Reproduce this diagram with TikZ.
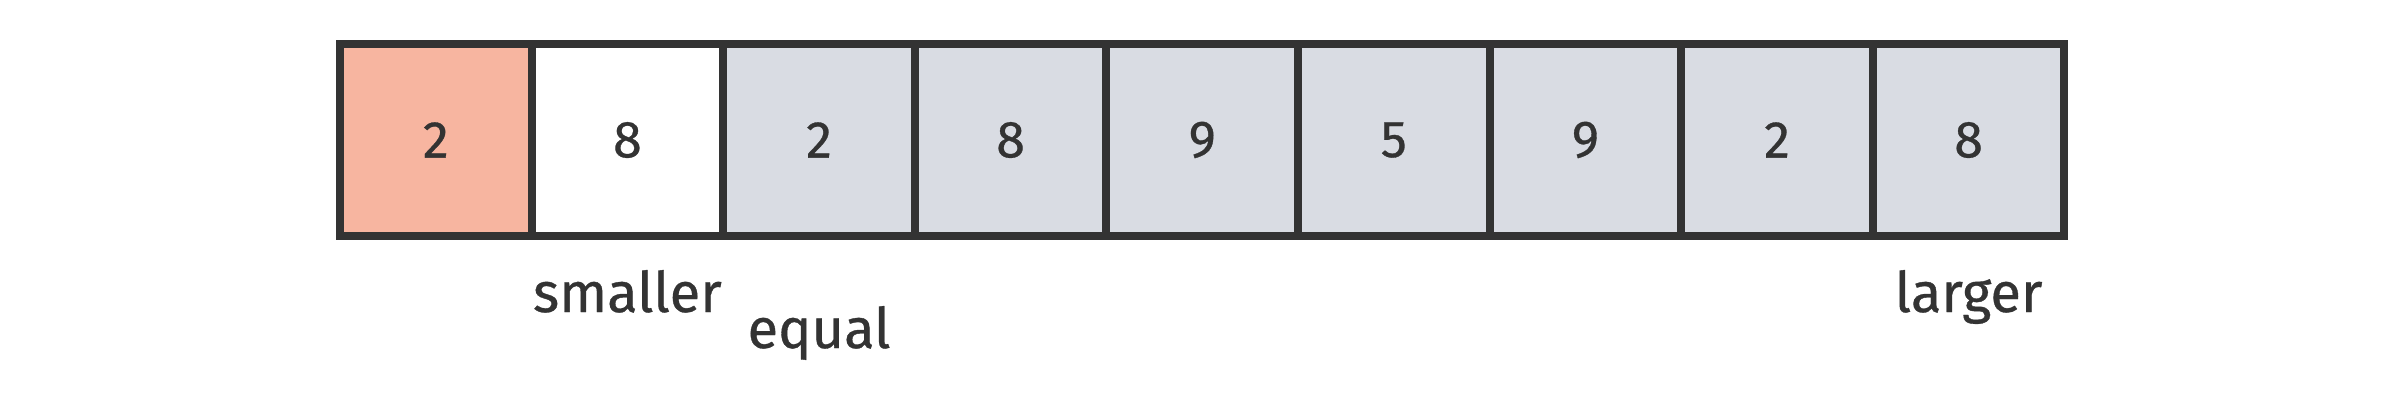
\documentclass[tikz,border=0pt]{standalone}
\usepackage{fontspec}
\setmainfont{Fira Sans}[FakeBold=0.6, AutoFakeBold=0.6]
\definecolor{ink}{HTML}{333333}
\definecolor{pivot}{HTML}{F7B5A0}
\definecolor{rest}{HTML}{D9DCE3}
\begin{document}
\begin{tikzpicture}[x=1pt,y=-1pt,
  cell/.style={draw=ink, line width=8pt, minimum width=191.6pt, minimum height=192pt,
    inner sep=0pt, outer sep=0pt, text=ink, font=\fontsize{52}{60}\selectfont\bfseries},
  lab/.style={anchor=base, inner sep=0pt, text=ink, font=\fontsize{56}{64}\selectfont\bfseries}]
\useasboundingbox (0,0) rectangle (2400,404);
\foreach \v [count=\i] in {2,8,2,8,9,5,9,2,8} {
  \ifnum\i=1 \def\fc{pivot}\else\ifnum\i=2 \def\fc{white}\else\def\fc{rest}\fi\fi
  \node[cell, fill=\fc] (c\i) at ({340+191.6*(\i-0.5)},140) {\v};
}
\node[lab] (smaller) at (c2.center |- 0,312) {smaller};
\node[lab] (equal) at (c3.center |- 0,348) {equal};
\node[lab] (larger) at (c9.center |- 0,312) {larger};
\end{tikzpicture}
\end{document}
